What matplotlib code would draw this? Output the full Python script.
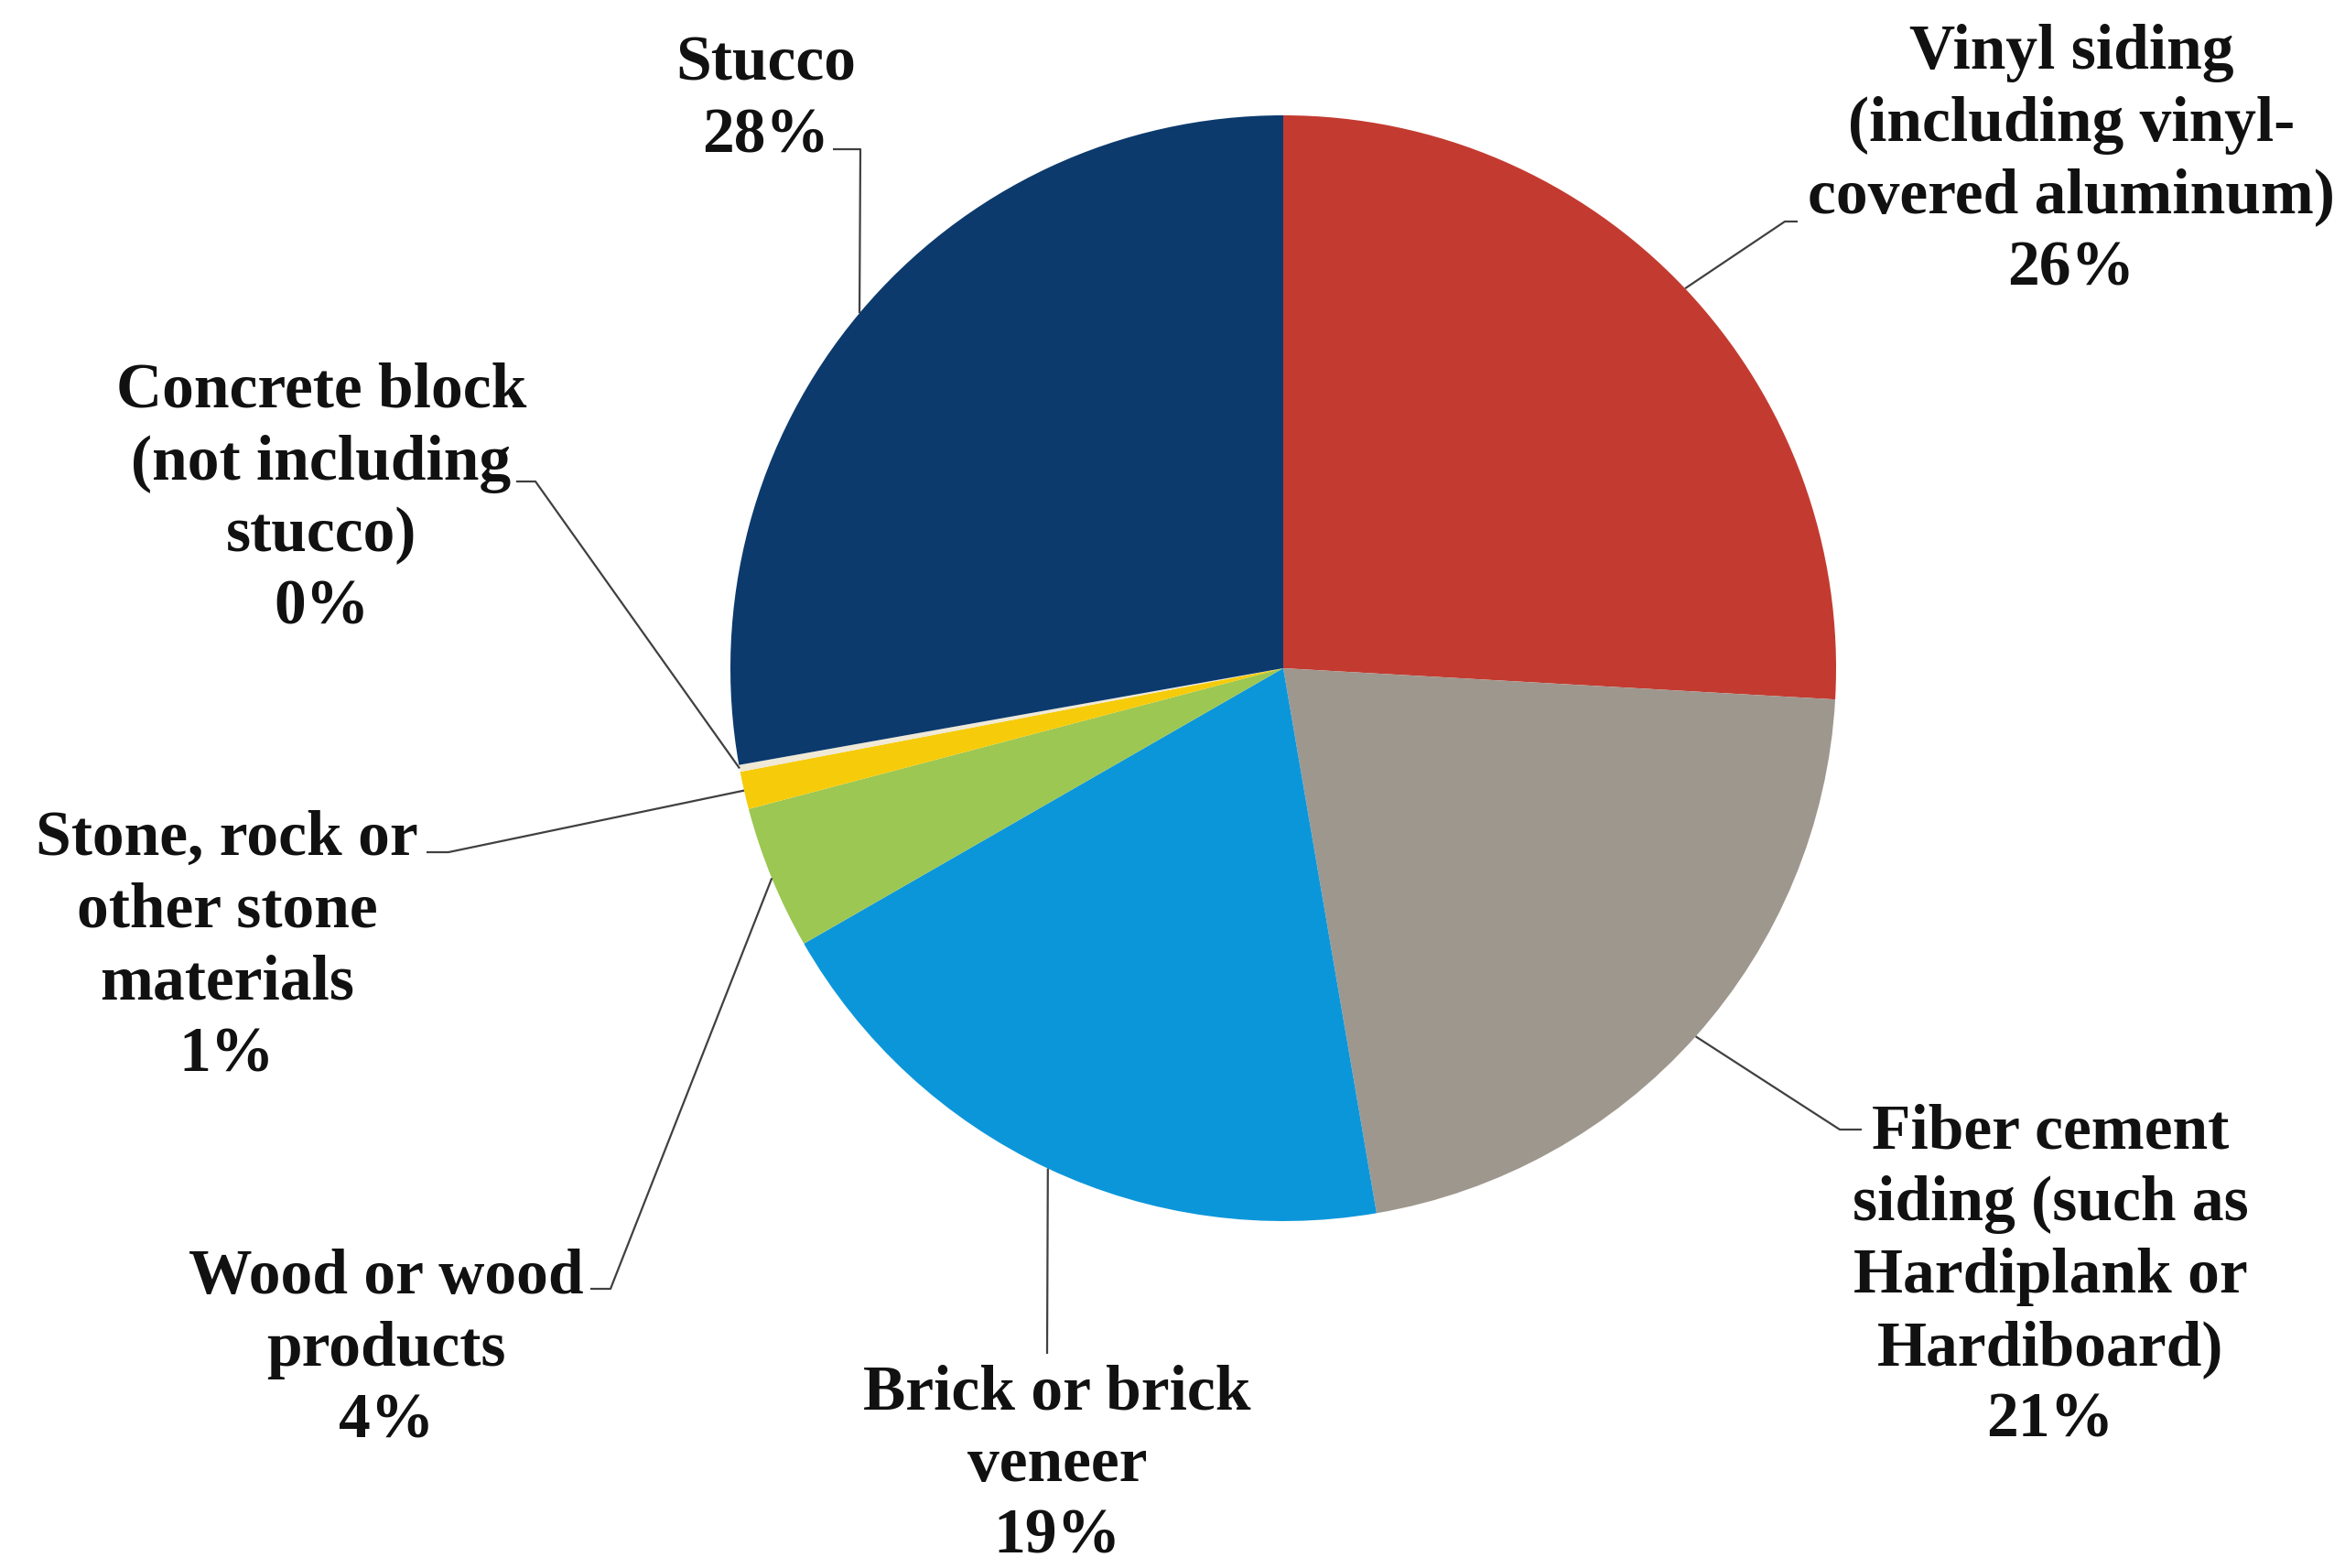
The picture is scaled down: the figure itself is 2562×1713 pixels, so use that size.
import numpy as np
import matplotlib
matplotlib.use("Agg")
import matplotlib.pyplot as plt

# ---- data ----
categories = [
    "Vinyl siding\n(including vinyl-\ncovered aluminum)",
    "Fiber cement\nsiding (such as\nHardiplank or\nHardiboard)",
    "Brick or brick\nveneer",
    "Wood or wood\nproducts",
    "Stone, rock or\nother stone\nmaterials",
    "Concrete block\n(not including\nstucco)",
    "Stucco",
]
values = [25.9, 21.4, 19.4, 4.2, 1.1, 0.2, 27.8]
pct_labels = ["26%", "21%", "19%", "4%", "1%", "0%", "28%"]
colors = ["#C33B30", "#9E978E", "#0C96DA", "#9BC752", "#F6CB0A", "#EFE9D6", "#0C3A6D"]

# ---- layout (pixel space, y up) ----
W, H = 2562, 1713
fig = plt.figure(figsize=(W / 100, H / 100), dpi=100)
ax = fig.add_axes([0, 0, 1, 1])
cx, cy, R = 1402, H - 730, 604

wedges, _ = ax.pie(values, colors=colors, startangle=90, counterclock=False,
                   center=(cx, cy), radius=R,
                   wedgeprops=dict(linewidth=0))
ax.set_xlim(0, W)
ax.set_ylim(0, H)
ax.set_aspect("equal")
ax.axis("off")

# label block centers (x, y-from-top) and leader paths (elbow points, y-from-top)
label_pos = [(2263, 176), (2240, 1395), (1155, 1601), (422, 1475),
             (248, 1035), (351, 546), (837, 110)]
leader_pts = [
    [(1950, 242), (1964, 242)],
    [(2010, 1234), (2034, 1234)],
    [(1144, 1479)],
    [(667, 1408), (645, 1408)],
    [(490, 931), (466, 931)],
    [(585, 526), (564, 526)],
    [(940, 163), (910, 163)],
]

font = dict(family="Liberation Serif", weight="bold", fontsize=50, color="#111111")

for w, cat, pct, (lx, ly), pts in zip(wedges, categories, pct_labels, label_pos, leader_pts):
    ang = np.deg2rad((w.theta1 + w.theta2) / 2)
    px, py = cx + R * np.cos(ang), cy + R * np.sin(ang)
    xs = [px] + [p[0] for p in pts]
    ys = [py] + [H - p[1] for p in pts]
    ax.plot(xs, ys, color="#404040", lw=1.6, solid_capstyle="butt", zorder=1)
    ax.text(lx, H - ly, cat + "\n" + pct, ha="center", va="center",
            linespacing=1.3, **font)

fig.savefig("out.png", dpi=100, facecolor="white")
